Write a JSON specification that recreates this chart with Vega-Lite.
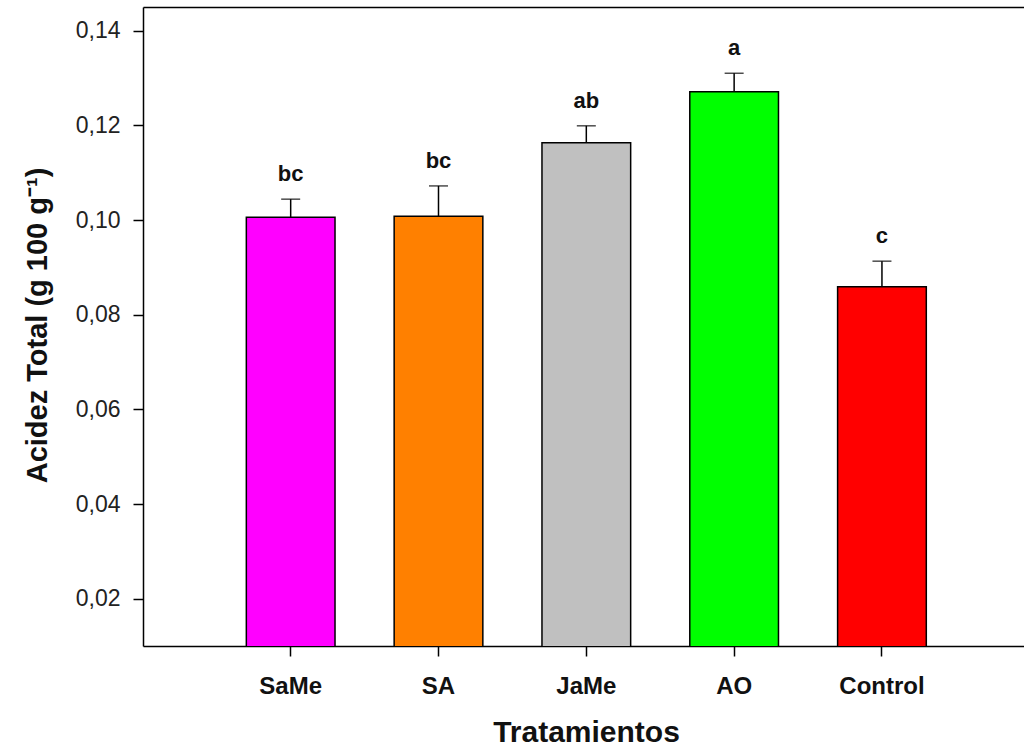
{
  "$schema": "https://vega.github.io/schema/vega-lite/v6.json",
  "autosize": {"type": "none"},
  "padding": {"left": 143, "top": 7, "right": 0, "bottom": 106},
  "width": 881,
  "height": 639,
  "background": "white",
  "config": {
    "view": {"stroke": null},
    "font": "Liberation Sans",
    "axis": {"domainColor": "black", "domainWidth": 1.5, "tickColor": "black", "tickWidth": 1.5, "tickSize": 10, "grid": false}
  },
  "data": {
    "values": [
      {"trat": "SaMe", "val": 0.1006, "err": 0.1044, "letra": "bc"},
      {"trat": "SA", "val": 0.1008, "err": 0.1072, "letra": "bc"},
      {"trat": "JaMe", "val": 0.1163, "err": 0.1199, "letra": "ab"},
      {"trat": "AO", "val": 0.1271, "err": 0.1310, "letra": "a"},
      {"trat": "Control", "val": 0.0859, "err": 0.0913, "letra": "c"}
    ]
  },
  "resolve": {"axis": {"x": "independent"}},
  "layer": [
    {
      "mark": {"type": "bar", "stroke": "black", "strokeWidth": 1.5, "clip": true},
      "encoding": {
        "x": {
          "field": "trat", "type": "nominal", "sort": null,
          "scale": {"paddingInner": 0.4, "paddingOuter": 0.68, "align": 0.514},
          "axis": {
            "title": "Tratamientos", "labelAngle": 0,
            "labelFont": "Liberation Sans", "labelFontWeight": "bold", "labelFontSize": 24, "labelColor": "#111",
            "labelBaseline": "alphabetic", "labelPadding": 37,
            "titleFont": "Liberation Sans", "titleFontWeight": "bold", "titleFontSize": 30, "titleColor": "#111",
            "titleX": 443, "titleY": 95, "titleBaseline": "alphabetic", "titleAnchor": null, "titleAlign": "center"
          }
        },
        "y": {
          "field": "val", "type": "quantitative",
          "scale": {"domain": [0.01, 0.145], "nice": false, "zero": false},
          "axis": {
            "values": [0.02, 0.04, 0.06, 0.08, 0.1, 0.12, 0.14],
            "labelExpr": "replace(format(datum.value, '.2f'), '.', ',')",
            "labelFont": "Liberation Sans", "labelFontSize": 23, "labelColor": "#222", "labelPadding": 13,
            "title": "Acidez Total (g 100 g⁻¹)",
            "titleFont": "Liberation Sans", "titleFontWeight": "bold", "titleFontSize": 29, "titleColor": "#111",
            "titleAngle": 270, "titleX": -97, "titleY": 318, "titleBaseline": "alphabetic", "titleAlign": "center", "titleAnchor": null
          }
        },
        "fill": {
          "field": "trat", "type": "nominal", "sort": null,
          "scale": {"domain": ["SaMe", "SA", "JaMe", "AO", "Control"], "range": ["#FF00FF", "#FF8000", "#C0C0C0", "#00FF00", "#FF0000"]},
          "legend": null
        }
      }
    },
    {
      "mark": {"type": "rule", "color": "black", "strokeWidth": 1.5},
      "encoding": {
        "x": {"field": "trat", "type": "nominal", "sort": null, "axis": {"orient": "top", "labels": false, "ticks": false, "title": null, "domainWidth": 1.5}},
        "y": {"field": "val", "type": "quantitative"},
        "y2": {"field": "err"}
      }
    },
    {
      "mark": {"type": "tick", "color": "black", "orient": "horizontal", "size": 19, "thickness": 1.5},
      "encoding": {
        "x": {"field": "trat", "type": "nominal", "sort": null, "axis": null},
        "y": {"field": "err", "type": "quantitative"}
      }
    },
    {
      "mark": {"type": "text", "font": "Liberation Sans", "fontWeight": "bold", "fontSize": 22, "color": "#111", "baseline": "alphabetic", "dy": -18},
      "encoding": {
        "x": {"field": "trat", "type": "nominal", "sort": null, "axis": null},
        "y": {"field": "err", "type": "quantitative"},
        "text": {"field": "letra"}
      }
    }
  ]
}
